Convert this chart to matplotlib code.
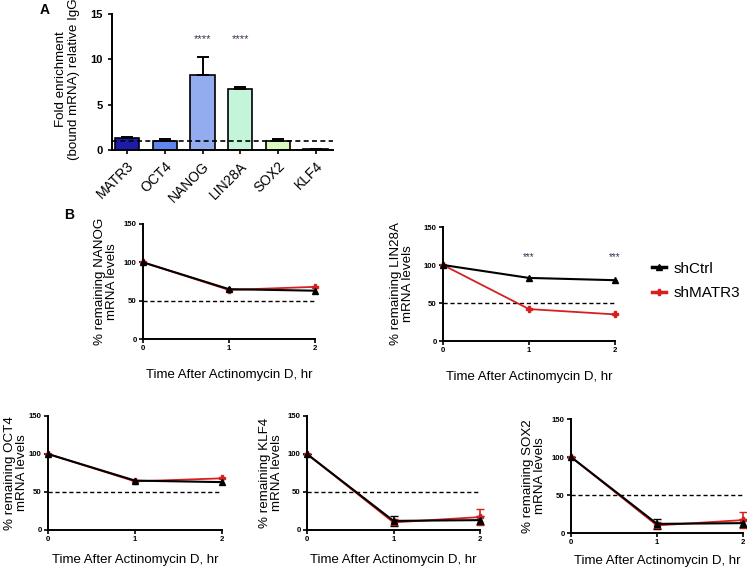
import matplotlib.pyplot as plt

plt.rcParams['font.family'] = ['Liberation Sans', 'DejaVu Sans']

# panel A data
genes = ['MATR3', 'OCT4', 'NANOG', 'LIN28A', 'SOX2', 'KLF4']
enrichment = [1.3, 1.0, 8.3, 6.7, 1.0, 0.1]
enrich_err = [0.08, 0.25, 2.0, 0.3, 0.25, 0.05]
bar_colors = ['#1c1ca8', '#5f86ee', '#93acf0', '#c4f4da', '#daf9bd', '#222222']
sig_bars = {2: '****', 3: '****'}

# panel B data
time_hr = [0, 1, 2]
nanog_ctrl = [100, 65, 63]
nanog_matr3 = [100, 64, 68]
lin28a_ctrl = [100, 83, 80]
lin28a_matr3 = [100, 42, 35]
oct4_ctrl = [100, 65, 63]
oct4_matr3 = [100, 64, 68]
klf4_ctrl = [100, 12, 13]
klf4_ctrl_err = [0, 7, 5]
klf4_matr3 = [100, 10, 17]
klf4_matr3_err = [0, 4, 11]
sox2_ctrl = [100, 12, 13]
sox2_ctrl_err = [0, 7, 5]
sox2_matr3 = [100, 10, 17]
sox2_matr3_err = [0, 4, 11]

W, H = 747, 569
fig = plt.figure(figsize=(W / 100, H / 100), dpi=100)


def px_axes(x0, y0, x1, y1):
    return fig.add_axes([x0 / W, 1 - y1 / H, (x1 - x0) / W, (y1 - y0) / H])


def style(ax):
    for s in ['top', 'right']:
        ax.spines[s].set_visible(False)
    for s in ['left', 'bottom']:
        ax.spines[s].set_linewidth(1.4)


# ---- panel A ----
ax = px_axes(112, 14, 333, 150)
style(ax)
x = range(len(genes))
ax.bar(x, enrichment, width=0.65, color=bar_colors, edgecolor='black', linewidth=1.2,
       yerr=[[0] * len(genes), enrich_err], error_kw=dict(ecolor='black', elinewidth=1.4,
                                                          capsize=4, capthick=1.4))
ax.axhline(1, color='black', linestyle='--', linewidth=1.2, dashes=(3, 2))
for i, s in sig_bars.items():
    ax.text(i, 12.2, s, ha='center', va='center', fontsize=8, color='#333355')
ax.set_xlim(-0.4, 5.46)
ax.set_ylim(0, 15)
ax.set_yticks([0, 5, 10, 15])
ax.set_xticks(list(x))
ax.set_xticklabels(genes, rotation=45, ha='right', rotation_mode='anchor', fontsize=10)
for lab in ax.get_yticklabels():
    lab.set_fontweight('bold')
    lab.set_fontsize(8)
ax.tick_params(width=1.2, length=3)
ax.set_ylabel('Fold enrichment\n(bound mRNA) relative IgG', fontsize=9.6, linespacing=1.1)
ax.yaxis.set_label_coords(-32 / 221, 0.52)
fig.text(40 / W, 1 - 10 / H, 'A', fontsize=10, fontweight='bold', va='center')
fig.text(64 / W, 1 - 215 / H, 'B', fontsize=10, fontweight='bold', va='center')


def decay(box, gene, ctrl, matr3, ctrl_err=None, matr3_err=None, stars=None,
          xpad=12, yoff=24):
    ax = px_axes(*box)
    style(ax)
    ax.axhline(50, color='black', linestyle='--', linewidth=1.0, dashes=(3, 2))
    ax.errorbar(time_hr, matr3, yerr=matr3_err, color='#d62020', marker='P', markersize=5,
                linewidth=1.3, capsize=3, elinewidth=1.2, clip_on=False, label='shMATR3')
    ax.errorbar(time_hr, ctrl, yerr=ctrl_err, color='black', marker='^', markersize=5,
                linewidth=1.5, capsize=3, elinewidth=1.2, clip_on=False, label='shCtrl')
    if stars:
        for xi in stars:
            ax.text(xi, 110, '***', ha='center', va='center', fontsize=7, color='#333355')
    ax.set_xlim(0, 2)
    ax.set_ylim(0, 150)
    ax.set_xticks(time_hr)
    ax.set_yticks([0, 50, 100, 150])
    for lab in ax.get_xticklabels() + ax.get_yticklabels():
        lab.set_fontweight('bold')
        lab.set_fontsize(5.6)
    ax.tick_params(width=1.2, length=3, pad=1.5)
    ax.set_ylabel('% remaining ' + gene + '\nmRNA levels', fontsize=9.6, linespacing=1.05)
    ax.yaxis.set_label_coords(-yoff / (box[2] - box[0]), 0.5)
    ax.set_xlabel('Time After Actinomycin D, hr', fontsize=9.5, labelpad=xpad)
    return ax


decay((143, 224, 315, 339), 'NANOG', nanog_ctrl, nanog_matr3, yoff=25)
ax_lin = decay((443, 227, 615, 341), 'LIN28A', lin28a_ctrl, lin28a_matr3, stars=[1, 2], yoff=29)
decay((48, 416, 222, 530), 'OCT4', oct4_ctrl, oct4_matr3, xpad=8, yoff=20)
decay((307, 416, 480, 530), 'KLF4', klf4_ctrl, klf4_matr3, klf4_ctrl_err, klf4_matr3_err,
      xpad=8, yoff=24)
decay((571, 419, 743, 533), 'SOX2', sox2_ctrl, sox2_matr3, sox2_ctrl_err, sox2_matr3_err,
      xpad=6, yoff=25)

h, l = ax_lin.get_legend_handles_labels()
leg = fig.legend(h[::-1], l[::-1], loc='center left', bbox_to_anchor=(638 / W, 1 - 281 / H),
                 frameon=False, fontsize=11, handlelength=0.9, handletextpad=0.5,
                 labelspacing=0.7)
for line in leg.get_lines():
    line.set_linewidth(2.5)

fig.savefig('out.png', dpi=100)
